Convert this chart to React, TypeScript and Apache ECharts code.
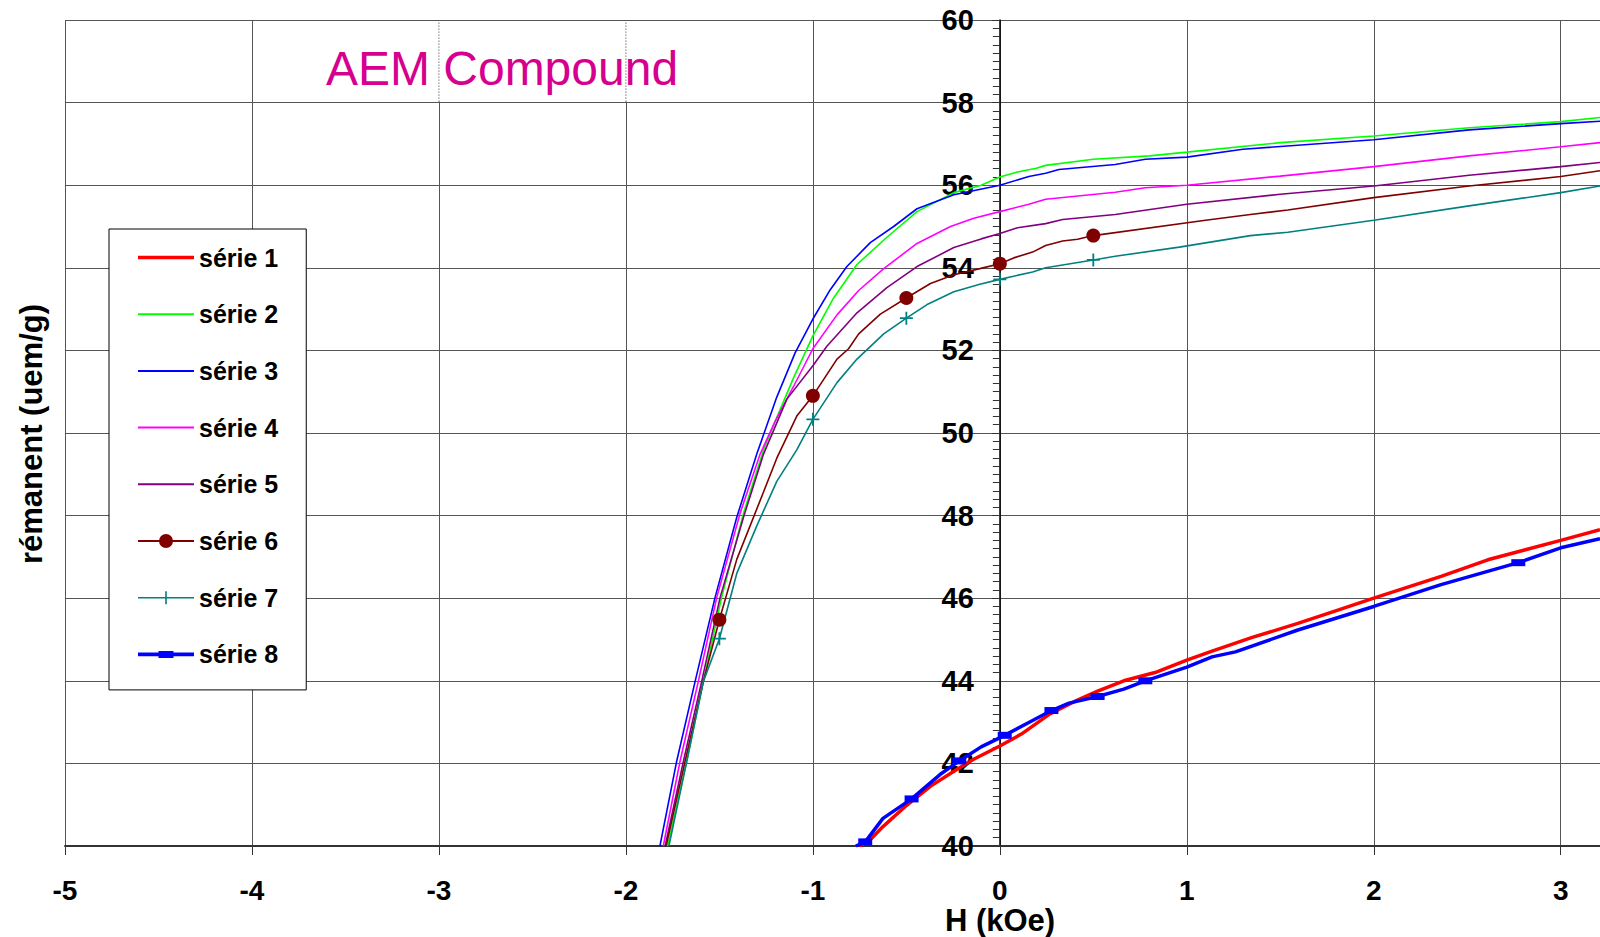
import React, { useEffect, useRef } from 'react';
import * as echarts from 'echarts';

type Pt = [number, number];

const seriesNames = ['série 1', 'série 2', 'série 3', 'série 4', 'série 5', 'série 6', 'série 7', 'série 8'];
const seriesColors = ['#FF0000', '#00FF00', '#0000FF', '#FF00FF', '#800080', '#800000', '#008080', '#0000FF'];

const s1: Pt[] = [
  [-0.75, 40.0], [-0.7, 40.12], [-0.625, 40.47], [-0.5, 40.98], [-0.37, 41.45], [-0.25, 41.8],
  [-0.14, 42.1], [0, 42.42], [0.115, 42.71], [0.268, 43.2], [0.4, 43.5], [0.523, 43.75],
  [0.663, 44.0], [0.83, 44.2], [1.0, 44.5], [1.135, 44.72], [1.35, 45.05], [1.594, 45.39],
  [1.8, 45.7], [2.0, 46.0], [2.36, 46.53], [2.61, 46.93], [3.0, 47.4], [3.21, 47.66],
];
const s2: Pt[] = [
  [-1.777, 40.0], [-1.675, 42.04], [-1.586, 43.98], [-1.488, 46.02], [-1.371, 48.06], [-1.264, 49.59],
  [-1.2, 50.3], [-1.104, 51.33], [-1.0, 52.35], [-0.889, 53.27], [-0.764, 54.08], [-0.604, 54.74],
  [-0.443, 55.36], [-0.246, 55.82], [-0.1, 56.0], [0, 56.2], [0.094, 56.32], [0.195, 56.41],
  [0.245, 56.48], [0.5, 56.63], [0.8, 56.71], [1.0, 56.8], [1.5, 57.03], [2.0, 57.19],
  [2.51, 57.39], [3.0, 57.54], [3.21, 57.64],
];
const s3: Pt[] = [
  [-1.818, 40.0], [-1.729, 42.04], [-1.63, 43.98], [-1.523, 46.02], [-1.407, 47.96], [-1.3, 49.49],
  [-1.193, 50.87], [-1.095, 51.94], [-1.0, 52.76], [-0.907, 53.47], [-0.818, 54.03], [-0.693, 54.61],
  [-0.568, 55.0], [-0.443, 55.43], [-0.246, 55.77], [0, 56.0], [0.155, 56.21], [0.245, 56.29],
  [0.316, 56.38], [0.617, 56.5], [0.778, 56.63], [1.0, 56.68], [1.3, 56.87], [2.0, 57.1],
  [2.51, 57.34], [3.0, 57.49], [3.21, 57.55],
];
const s4: Pt[] = [
  [-1.8, 40.0], [-1.711, 42.04], [-1.613, 43.98], [-1.514, 46.02], [-1.389, 48.06], [-1.282, 49.49],
  [-1.2, 50.3], [-1.104, 51.12], [-1.0, 52.04], [-0.871, 52.86], [-0.755, 53.45], [-0.621, 53.98],
  [-0.443, 54.59], [-0.264, 55.0], [-0.139, 55.2], [0, 55.36], [0.155, 55.54], [0.245, 55.66],
  [0.617, 55.83], [0.778, 55.94], [1.0, 56.0], [1.5, 56.22], [2.0, 56.45], [2.51, 56.71],
  [3.0, 56.93], [3.21, 57.03],
];
const s5: Pt[] = [
  [-1.79, 40.0], [-1.693, 42.04], [-1.595, 43.98], [-1.496, 46.02], [-1.371, 47.96], [-1.264, 49.49],
  [-1.139, 50.82], [-1.0, 51.63], [-0.925, 52.1], [-0.764, 52.91], [-0.604, 53.52], [-0.443, 54.03],
  [-0.246, 54.49], [-0.1, 54.7], [0, 54.83], [0.094, 54.97], [0.245, 55.07], [0.336, 55.17],
  [0.617, 55.29], [1.0, 55.54], [1.5, 55.78], [2.0, 55.98], [2.51, 56.24], [3.0, 56.45], [3.21, 56.55],
];
const s6: Pt[] = [
  [-1.785, 40.0], [-1.684, 42.04], [-1.586, 43.98], [-1.5, 45.48], [-1.407, 46.94], [-1.264, 48.57],
  [-1.193, 49.39], [-1.086, 50.41], [-1.0, 50.9], [-0.871, 51.79], [-0.809, 52.04], [-0.755, 52.4],
  [-0.639, 52.88], [-0.5, 53.27], [-0.371, 53.62], [-0.246, 53.83], [-0.107, 53.98], [0, 54.1],
  [0.074, 54.24], [0.175, 54.38], [0.245, 54.54], [0.336, 54.65], [0.416, 54.69], [0.5, 54.78],
  [1.1, 55.15], [1.34, 55.29], [1.54, 55.4], [2.0, 55.7], [2.51, 55.98], [3.0, 56.21], [3.21, 56.35],
];
const s7: Pt[] = [
  [-1.77, 40.0], [-1.675, 42.04], [-1.586, 43.98], [-1.5, 45.02], [-1.407, 46.6], [-1.3, 47.75],
  [-1.193, 48.83], [-1.086, 49.59], [-1.0, 50.33], [-0.871, 51.22], [-0.764, 51.79], [-0.621, 52.4],
  [-0.5, 52.78], [-0.389, 53.11], [-0.246, 53.42], [-0.107, 53.6], [0, 53.72], [0.175, 53.9],
  [0.245, 54.0], [0.5, 54.19], [0.617, 54.28], [0.96, 54.5], [1.34, 54.78], [1.54, 54.86],
  [2.0, 55.15], [2.51, 55.5], [3.0, 55.82], [3.21, 55.98],
];
const s8: Pt[] = [
  [-0.77, 40.0], [-0.72, 40.1], [-0.625, 40.67], [-0.472, 41.14], [-0.32, 41.73], [-0.217, 42.06],
  [-0.1, 42.4], [0.026, 42.68], [0.15, 42.98], [0.276, 43.28], [0.37, 43.46], [0.523, 43.62],
  [0.663, 43.8], [0.778, 44.0], [1.0, 44.33], [1.135, 44.58], [1.26, 44.7], [1.594, 45.23],
  [2.0, 45.8], [2.36, 46.33], [2.773, 46.86], [3.0, 47.22], [3.21, 47.44],
];

const s6MarkerX = [-1.5, -1.0, -0.5, 0, 0.5];
const s7MarkerX = [-1.5, -1.0, -0.5, 0, 0.5];
const s8MarkerX = [-0.72, -0.472, -0.217, 0.026, 0.276, 0.523, 0.778, 2.773];

const xMin = -5;
const xMax = 3.21;
const yMin = 40;
const yMax = 60;

const titleText = 'AEM Compound';
const xName = 'H (kOe)';
const yName = 'rémanent (uem/g)';

const PLUS = 'path://M4.3,0H5.7V4.3H10V5.7H5.7V10H4.3V5.7H0V4.3H4.3Z';
const FONT = 'Liberation Sans';

// legend icons drawn in a 56 x 16 box (M0,0 M56,16 fix the box)
const BOX = 'M0,0M56,16';
const ICON_THICK = `path://${BOX}M0,6.2H56V9.8H0Z`;
const ICON_THIN = `path://${BOX}M0,7H56V9H0Z`;
const ICON_CIRCLE = `path://${BOX}M0,7H21.2V9H0ZM34.8,7H56V9H34.8ZM21,8A7,7 0 1,1 35,8A7,7 0 1,1 21,8Z`;
const ICON_PLUS = `path://${BOX}M0,7.2H56V8.8H0ZM27.2,1.5H28.8V7.2H27.2ZM27.2,8.8H28.8V14.5H27.2Z`;
const ICON_RECT = `path://${BOX}M0,6.2H20.5V9.8H0ZM35.5,6.2H56V9.8H35.5ZM20.5,4.5H35.5V11.5H20.5Z`;
const legendIcons = [ICON_THICK, ICON_THIN, ICON_THIN, ICON_THIN, ICON_THIN, ICON_CIRCLE, ICON_PLUS, ICON_RECT];

function marked(points: Pt[], xs: number[] | null) {
  return points.map((p) =>
    xs && xs.some((x) => Math.abs(x - p[0]) < 1e-6) ? { value: p } : { value: p, symbol: 'none' }
  );
}

export default function App() {
  const ref = useRef<HTMLDivElement>(null);
  useEffect(() => {
    if (!ref.current) return;
    const chart = echarts.init(ref.current, undefined, { renderer: 'svg' });
    const W = 1600;
    const gridLeft = 65;
    const gridRight = 0;
    const gridW = W - gridLeft - gridRight;
    const yAxisOffset = -((0 - xMin) / (xMax - xMin)) * gridW;

    const all = [s1, s2, s3, s4, s5, s6, s7, s8];
    const markers = [null, null, null, null, null, s6MarkerX, s7MarkerX, s8MarkerX];
    const symbols = ['none', 'none', 'none', 'none', 'none', 'circle', PLUS, 'rect'];
    const symbolSizes: any[] = [0, 0, 0, 0, 0, 14, 13, [14, 7]];
    const widths = [3.5, 1.6, 1.6, 1.6, 1.6, 1.6, 1.6, 3.5];
    const series = all.map((pts, i) => ({
      name: seriesNames[i],
      type: 'line',
      data: marked(pts, markers[i]),
      symbol: symbols[i],
      symbolSize: symbolSizes[i],
      showSymbol: true,
      clip: true,
      lineStyle: { color: seriesColors[i], width: widths[i] },
      itemStyle: { color: seriesColors[i], borderWidth: 0 },
      z: 3 + (i === 0 || i === 7 ? 1 : 0),
    }));
    chart.setOption({
      animation: false,
      backgroundColor: '#fff',
      grid: { left: gridLeft, top: 20, right: gridRight, bottom: 91, containLabel: false },
      xAxis: {
        type: 'value',
        min: xMin,
        max: xMax,
        interval: 1,
        axisLine: { onZero: false, lineStyle: { color: '#333', width: 2 } },
        axisTick: { show: true, length: 9, inside: false, lineStyle: { color: '#333', width: 1 } },
        axisLabel: {
          margin: 30,
          showMaxLabel: false,
          fontFamily: FONT,
          fontWeight: 'bold',
          fontSize: 28,
          color: '#000',
          formatter: (v: number) => (Number.isInteger(v) ? String(v) : ''),
        },
        splitLine: { show: true, lineStyle: { color: '#555', width: 1 } },
      },
      yAxis: {
        type: 'value',
        min: yMin,
        max: yMax,
        interval: 2,
        position: 'left',
        offset: yAxisOffset,
        axisLine: { onZero: false, lineStyle: { color: '#000', width: 1.5 } },
        axisTick: { show: true, length: 8, inside: false, lineStyle: { color: '#333', width: 1 } },
        minorTick: { show: true, splitNumber: 10, length: 7, lineStyle: { color: '#333', width: 1 } },
        axisLabel: {
          margin: 26,
          fontFamily: FONT,
          fontWeight: 'bold',
          fontSize: 29,
          color: '#000',
        },
        splitLine: { show: true, lineStyle: { color: '#555', width: 1 } },
      },
      legend: {
        orient: 'vertical',
        left: 109,
        top: 229,
        padding: [16, 28, 23, 29],
        itemGap: 31.7,
        itemWidth: 56,
        itemHeight: 16,
        symbolKeepAspect: false,
        backgroundColor: '#fff',
        borderColor: '#000',
        borderWidth: 1,
        borderRadius: 0,
        textStyle: { fontFamily: FONT, fontWeight: 'bold', fontSize: 25, color: '#000' },
        data: seriesNames.map((n, i) => ({ name: n, icon: legendIcons[i] })),
      },
      series,
    });

    const p = (x: number, y: number) => chart.convertToPixel({ xAxisIndex: 0, yAxisIndex: 0 }, [x, y]) as number[];
    const dotted = [-3, -2].flatMap((gx) => {
      const a = p(gx, 58);
      const b = p(gx, 60);
      return [
        { type: 'line', z: 1, silent: true, shape: { x1: a[0], y1: a[1] - 1, x2: b[0], y2: b[1] + 1 }, style: { stroke: '#fff', lineWidth: 3 } },
        { type: 'line', z: 1.5, silent: true, shape: { x1: a[0], y1: a[1] - 1, x2: b[0], y2: b[1] + 1 }, style: { stroke: '#333', lineWidth: 1, lineDash: [1, 2] } },
      ];
    });
    chart.setOption({
      graphic: [
        ...dotted,
        {
          type: 'text', z: 10, x: 502, y: 68,
          style: { text: titleText, fill: '#D6008F', font: `48px "${FONT}"`, textAlign: 'center', textVerticalAlign: 'middle' },
        },
        {
          type: 'text', z: 10, x: 1000, y: 920,
          style: { text: xName, fill: '#000', font: `bold 31px "${FONT}"`, textAlign: 'center', textVerticalAlign: 'middle' },
        },
        {
          type: 'text', z: 10, x: 31, y: 434, rotation: Math.PI / 2,
          style: { text: yName, fill: '#000', font: `bold 31px "${FONT}"`, textAlign: 'center', textVerticalAlign: 'middle' },
        },
      ],
    });
    return () => chart.dispose();
  }, []);
  return <div ref={ref} style={{ position: 'fixed', left: 0, top: 0, width: 1600, height: 937 }} />;
}
